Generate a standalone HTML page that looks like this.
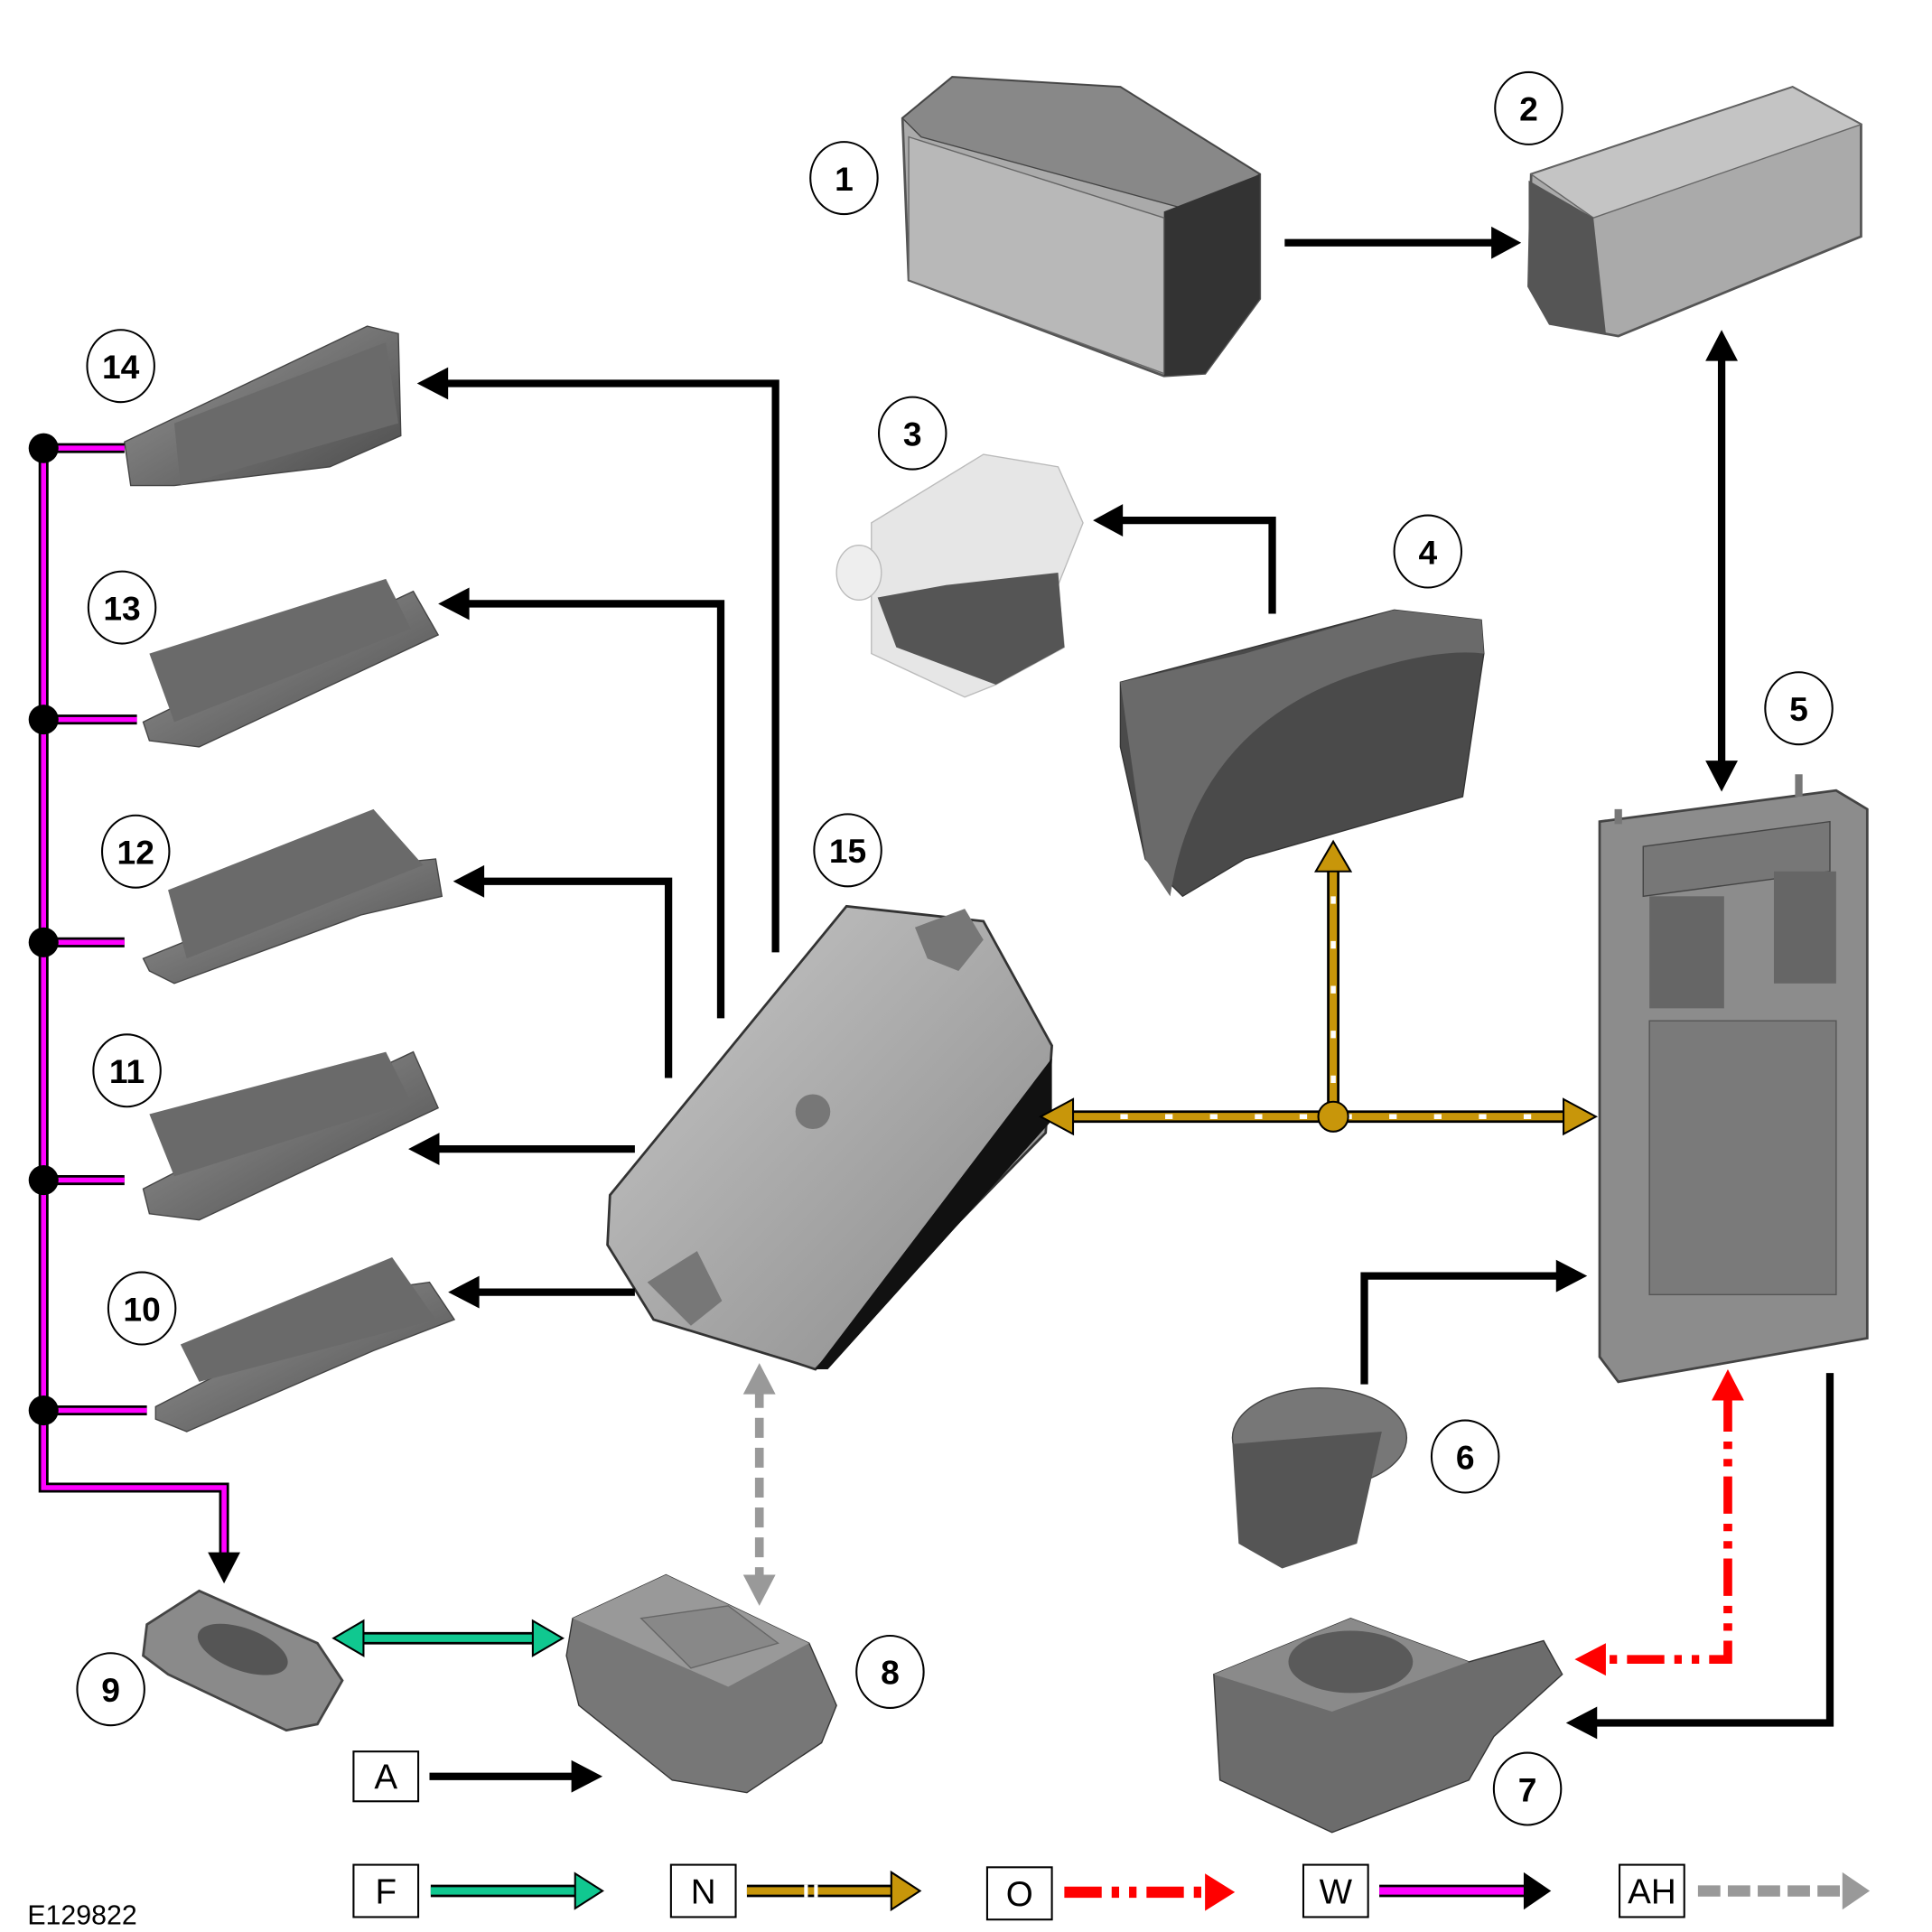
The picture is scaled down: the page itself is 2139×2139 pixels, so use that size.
<!DOCTYPE html>
<html><head><meta charset="utf-8"><style>
html,body{margin:0;padding:0;background:#fff}
svg{display:block}
text{font-family:"Liberation Sans",sans-serif}
</style></head><body>
<svg width="2139" height="2139" viewBox="0 0 1552 1552" xmlns="http://www.w3.org/2000/svg">
<defs>
<linearGradient id="g1" x1="0" y1="0" x2="1" y2="1"><stop offset="0" stop-color="#c8c8c8"/><stop offset="1" stop-color="#8a8a8a"/></linearGradient>
<linearGradient id="g2" x1="0" y1="0" x2="1" y2="1"><stop offset="0" stop-color="#9a9a9a"/><stop offset="1" stop-color="#4a4a4a"/></linearGradient>
<linearGradient id="g3" x1="0" y1="0" x2="1" y2="0"><stop offset="0" stop-color="#f0f0f0"/><stop offset="1" stop-color="#c8c8c8"/></linearGradient>
</defs>

<!-- 1 battery -->
<polygon points="725,95 765,62 900,70 1012,140 1012,240 968,300 935,302 730,225" fill="#aaa" stroke="#555" stroke-width="2"/>
<polygon points="725,95 765,62 900,70 1012,140 960,170 740,110" fill="#888" stroke="#444"/>
<polygon points="935,170 1012,140 1012,240 968,300 935,302" fill="#333"/>
<polygon points="730,110 935,175 935,300 730,225" fill="#b8b8b8" stroke="#666"/>
<!-- 2 fuse box -->
<polygon points="1230,140 1440,70 1495,100 1495,190 1300,270 1245,260 1228,230" fill="#aaa" stroke="#555" stroke-width="2"/>
<polygon points="1230,140 1440,70 1495,100 1280,175" fill="#c4c4c4" stroke="#666"/>
<polygon points="1228,145 1280,175 1290,268 1245,260 1228,230" fill="#555"/>
<!-- 3 -->
<polygon points="700,420 790,365 850,375 870,420 850,470 855,520 800,550 775,560 700,525 700,460" fill="#e6e6e6" stroke="#bbb"/>
<polygon points="705,480 760,470 850,460 855,520 800,550 720,520" fill="#555"/>
<ellipse cx="690" cy="460" rx="18" ry="22" fill="#eee" stroke="#bbb"/>
<!-- 4 -->
<polygon points="900,548 1120,490 1190,498 1192,525 1175,640 1000,690 950,720 920,690 900,600" fill="#4a4a4a" stroke="#333"/>
<path d="M900,548 L1000,525 L1120,490 L1190,498 L1192,525 Q1150,520 1080,545 Q960,590 940,720 L920,690 Z" fill="#6a6a6a"/>
<!-- 5 BCM -->
<polygon points="1285,660 1475,635 1500,650 1500,1075 1300,1110 1285,1090" fill="#8c8c8c" stroke="#444" stroke-width="2"/>
<polygon points="1320,680 1470,660 1470,700 1320,720" fill="#777" stroke="#444"/>
<rect x="1325" y="720" width="60" height="90" fill="#666"/><rect x="1425" y="700" width="50" height="90" fill="#666"/>
<rect x="1325" y="820" width="150" height="220" fill="#7a7a7a" stroke="#555"/>
<line x1="1300" y1="650" x2="1300" y2="662" stroke="#777" stroke-width="6"/><line x1="1445" y1="622" x2="1445" y2="640" stroke="#777" stroke-width="6"/>
<!-- 6 -->
<ellipse cx="1060" cy="1155" rx="70" ry="40" fill="#777" stroke="#444"/>
<polygon points="990,1160 1110,1150 1090,1240 1030,1260 995,1240" fill="#555"/>
<!-- 7 -->
<polygon points="975,1345 1085,1300 1180,1335 1240,1318 1255,1345 1200,1395 1180,1430 1070,1472 980,1430" fill="#6c6c6c" stroke="#333"/>
<polygon points="975,1345 1085,1300 1180,1335 1070,1375" fill="#8a8a8a"/>
<ellipse cx="1085" cy="1335" rx="50" ry="25" fill="#5a5a5a"/>
<!-- 8 -->
<polygon points="460,1300 535,1265 650,1320 672,1370 660,1400 600,1440 540,1430 465,1370 455,1330" fill="#777" stroke="#333"/>
<polygon points="460,1300 535,1265 650,1320 585,1355" fill="#999"/>
<polygon points="515,1300 585,1290 625,1320 555,1340" fill="#888" stroke="#666"/>
<!-- 9 key fob -->
<polygon points="118,1305 160,1278 255,1320 275,1350 255,1385 230,1390 135,1345 115,1330" fill="#8a8a8a" stroke="#444" stroke-width="2"/>
<ellipse cx="195" cy="1325" rx="38" ry="17" fill="#555" transform="rotate(20 195 1325)"/>
<!-- 15 module -->
<polygon points="490,960 680,728 790,740 845,840 840,910 655,1100 640,1095 525,1060 488,1000" fill="url(#g1)" stroke="#333" stroke-width="2"/>
<polygon points="655,1100 845,850 845,900 665,1100" fill="#111"/>
<circle cx="653" cy="893" r="14" fill="#777"/>
<polygon points="735,745 775,730 790,755 770,780 745,770" fill="#777"/>
<polygon points="520,1030 560,1005 580,1045 555,1065" fill="#777"/>
<!-- sensors 10-14 -->
<g fill="url(#g2)" stroke="#444">
<polygon points="100,355 295,262 320,268 322,350 265,375 140,390 105,390"/>
<polygon points="115,580 300,490 332,475 352,510 160,600 120,595"/>
<polygon points="115,770 300,695 350,690 355,720 290,735 140,790 120,780"/>
<polygon points="115,955 300,860 332,845 352,890 160,980 120,975"/>
<polygon points="125,1130 310,1035 345,1030 365,1060 300,1085 150,1150 125,1140"/>
</g>
<g fill="#6a6a6a">
<polygon points="140,340 310,275 320,340 145,390"/>
<polygon points="120,525 310,465 330,505 140,580"/>
<polygon points="135,715 300,650 340,695 150,770"/>
<polygon points="120,895 310,845 330,885 140,945"/>
<polygon points="145,1080 315,1010 350,1060 160,1110"/>
</g>

<!-- connectors black -->
<g stroke="#000" stroke-width="6" fill="none">
<line x1="1032" y1="195" x2="1200" y2="195"/>
<line x1="1383" y1="285" x2="1383" y2="616"/>
<polyline points="1022,493 1022,418 898,418"/>
<polyline points="623,765 623,308 356,308"/>
<polyline points="579,818 579,485 373,485"/>
<polyline points="537,866 537,708 385,708"/>
<line x1="510" y1="923" x2="350" y2="923"/>
<line x1="510" y1="1038" x2="382" y2="1038"/>
<polyline points="1470,1103 1470,1384 1280,1384"/>
<polyline points="1096,1112 1096,1025 1255,1025"/>
<line x1="345" y1="1427" x2="462" y2="1427"/>
</g>
<g fill="#000">
<polygon points="1222,195 1198,182 1198,208"/>
<polygon points="1383,265 1370,290 1396,290"/>
<polygon points="1383,636 1370,611 1396,611"/>
<polygon points="878,418 902,405 902,431"/>
<polygon points="335,308 360,295 360,321"/>
<polygon points="352,485 377,472 377,498"/>
<polygon points="364,708 389,695 389,721"/>
<polygon points="328,923 353,910 353,936"/>
<polygon points="360,1038 385,1025 385,1051"/>
<polygon points="1258,1384 1283,1371 1283,1397"/>
<polygon points="1275,1025 1250,1012 1250,1038"/>
<polygon points="484,1427 459,1414 459,1440"/>
</g>

<!-- N gold bus -->
<g stroke="#000" stroke-width="10"><line x1="856" y1="897" x2="1262" y2="897"/><line x1="1071" y1="897" x2="1071" y2="698"/></g>
<g stroke="#c8960a" stroke-width="6"><line x1="856" y1="897" x2="1262" y2="897"/><line x1="1071" y1="897" x2="1071" y2="698"/></g>
<g stroke="#fff" stroke-width="4" stroke-dasharray="6 30"><line x1="900" y1="897" x2="1262" y2="897"/><line x1="1071" y1="870" x2="1071" y2="700"/></g>
<g fill="#c8960a" stroke="#000" stroke-width="1.5">
<polygon points="836,897 862,883 862,911"/><polygon points="1282,897 1256,883 1256,911"/><polygon points="1071,676 1057,700 1085,700"/>
<circle cx="1071" cy="897" r="12"/>
</g>
<!-- AH grey dashed -->
<line x1="610" y1="1115" x2="610" y2="1270" stroke="#999" stroke-width="7" stroke-dasharray="16 8"/>
<g fill="#999"><polygon points="610,1095 597,1120 623,1120"/><polygon points="610,1290 597,1265 623,1265"/></g>
<!-- F green -->
<line x1="288" y1="1316" x2="432" y2="1316" stroke="#000" stroke-width="10"/>
<line x1="288" y1="1316" x2="432" y2="1316" stroke="#10c890" stroke-width="6"/>
<g fill="#10c890" stroke="#000" stroke-width="1.5"><polygon points="268,1316 292,1302 292,1330"/><polygon points="452,1316 428,1302 428,1330"/></g>
<!-- O red -->
<polyline points="1388,1120 1388,1333 1285,1333" fill="none" stroke="#f00" stroke-width="7" stroke-dasharray="30 8 6 8 6 8"/>
<g fill="#f00"><polygon points="1388,1100 1375,1125 1401,1125"/><polygon points="1265,1333 1290,1320 1290,1346"/></g>
<!-- W magenta -->
<g fill="none" stroke="#000" stroke-width="8">
<polyline points="35,358 35,1195 180,1195 180,1250"/>
<line x1="35" y1="360" x2="100" y2="360"/><line x1="35" y1="578" x2="110" y2="578"/><line x1="35" y1="757" x2="100" y2="757"/><line x1="35" y1="948" x2="100" y2="948"/><line x1="35" y1="1133" x2="118" y2="1133"/>
</g>
<g fill="none" stroke="#f0f" stroke-width="4">
<polyline points="35,358 35,1195 180,1195 180,1250"/>
<line x1="35" y1="360" x2="100" y2="360"/><line x1="35" y1="578" x2="110" y2="578"/><line x1="35" y1="757" x2="100" y2="757"/><line x1="35" y1="948" x2="100" y2="948"/><line x1="35" y1="1133" x2="118" y2="1133"/>
</g>
<g fill="#000"><circle cx="35" cy="360" r="12"/><circle cx="35" cy="578" r="12"/><circle cx="35" cy="757" r="12"/><circle cx="35" cy="948" r="12"/><circle cx="35" cy="1133" r="12"/>
<polygon points="180,1272 167,1247 193,1247"/></g>

<!-- labels -->
<g fill="#fff" stroke="#000" stroke-width="1.5">
<ellipse cx="678" cy="143" rx="27" ry="29"/><ellipse cx="1228" cy="87" rx="27" ry="29"/><ellipse cx="733" cy="348" rx="27" ry="29"/><ellipse cx="1147" cy="443" rx="27" ry="29"/><ellipse cx="1445" cy="569" rx="27" ry="29"/><ellipse cx="1177" cy="1170" rx="27" ry="29"/><ellipse cx="1227" cy="1437" rx="27" ry="29"/><ellipse cx="715" cy="1343" rx="27" ry="29"/><ellipse cx="89" cy="1357" rx="27" ry="29"/><ellipse cx="114" cy="1051" rx="27" ry="29"/><ellipse cx="102" cy="860" rx="27" ry="29"/><ellipse cx="109" cy="684" rx="27" ry="29"/><ellipse cx="98" cy="488" rx="27" ry="29"/><ellipse cx="97" cy="294" rx="27" ry="29"/><ellipse cx="681" cy="683" rx="27" ry="29"/>
</g>
<g font-size="27" font-weight="bold" text-anchor="middle" fill="#000">
<text x="678" y="153">1</text><text x="1228" y="97">2</text><text x="733" y="358">3</text><text x="1147" y="453">4</text><text x="1445" y="579">5</text><text x="1177" y="1180">6</text><text x="1227" y="1447">7</text><text x="715" y="1353">8</text><text x="89" y="1367">9</text><text x="114" y="1061">10</text><text x="102" y="870">11</text><text x="109" y="694">12</text><text x="98" y="498">13</text><text x="97" y="304">14</text><text x="681" y="693">15</text>
</g>

<!-- legend -->
<g fill="#fff" stroke="#000" stroke-width="1.5">
<rect x="284" y="1407" width="52" height="40"/><rect x="284" y="1498" width="52" height="42"/><rect x="539" y="1498" width="52" height="42"/><rect x="793" y="1500" width="52" height="42"/><rect x="1047" y="1498" width="52" height="42"/><rect x="1301" y="1498" width="52" height="42"/>
</g>
<g font-size="28" text-anchor="middle" fill="#000">
<text x="310" y="1437">A</text><text x="310" y="1529">F</text><text x="565" y="1529">N</text><text x="819" y="1531">O</text><text x="1073" y="1529">W</text><text x="1327" y="1529">AH</text>
</g>
<text x="22" y="1546" font-size="22" fill="#000">E129822</text>
<!-- legend arrows -->
<line x1="346" y1="1519" x2="465" y2="1519" stroke="#000" stroke-width="10"/><line x1="346" y1="1519" x2="465" y2="1519" stroke="#10c890" stroke-width="6"/>
<polygon points="484,1519 462,1505 462,1533" fill="#10c890" stroke="#000" stroke-width="1.5"/>
<line x1="600" y1="1519" x2="718" y2="1519" stroke="#000" stroke-width="10"/><line x1="600" y1="1519" x2="718" y2="1519" stroke="#c8960a" stroke-width="6"/>
<rect x="646" y="1514" width="3" height="10" fill="#fff"/><rect x="654" y="1514" width="3" height="10" fill="#fff"/>
<polygon points="739,1519 716,1504 716,1534" fill="#c8960a" stroke="#000" stroke-width="1.5"/>
<line x1="855" y1="1520" x2="970" y2="1520" stroke="#f00" stroke-width="9" stroke-dasharray="30 8 6 8 6 8"/>
<polygon points="992,1520 968,1505 968,1535" fill="#f00"/>
<line x1="1108" y1="1519" x2="1226" y2="1519" stroke="#000" stroke-width="10"/><line x1="1108" y1="1519" x2="1226" y2="1519" stroke="#f0f" stroke-width="6"/>
<polygon points="1246,1519 1224,1504 1224,1534" fill="#000"/>
<line x1="1364" y1="1519" x2="1482" y2="1519" stroke="#999" stroke-width="9" stroke-dasharray="18 6"/>
<polygon points="1502,1519 1480,1504 1480,1534" fill="#999"/>
</svg>
</body></html>
